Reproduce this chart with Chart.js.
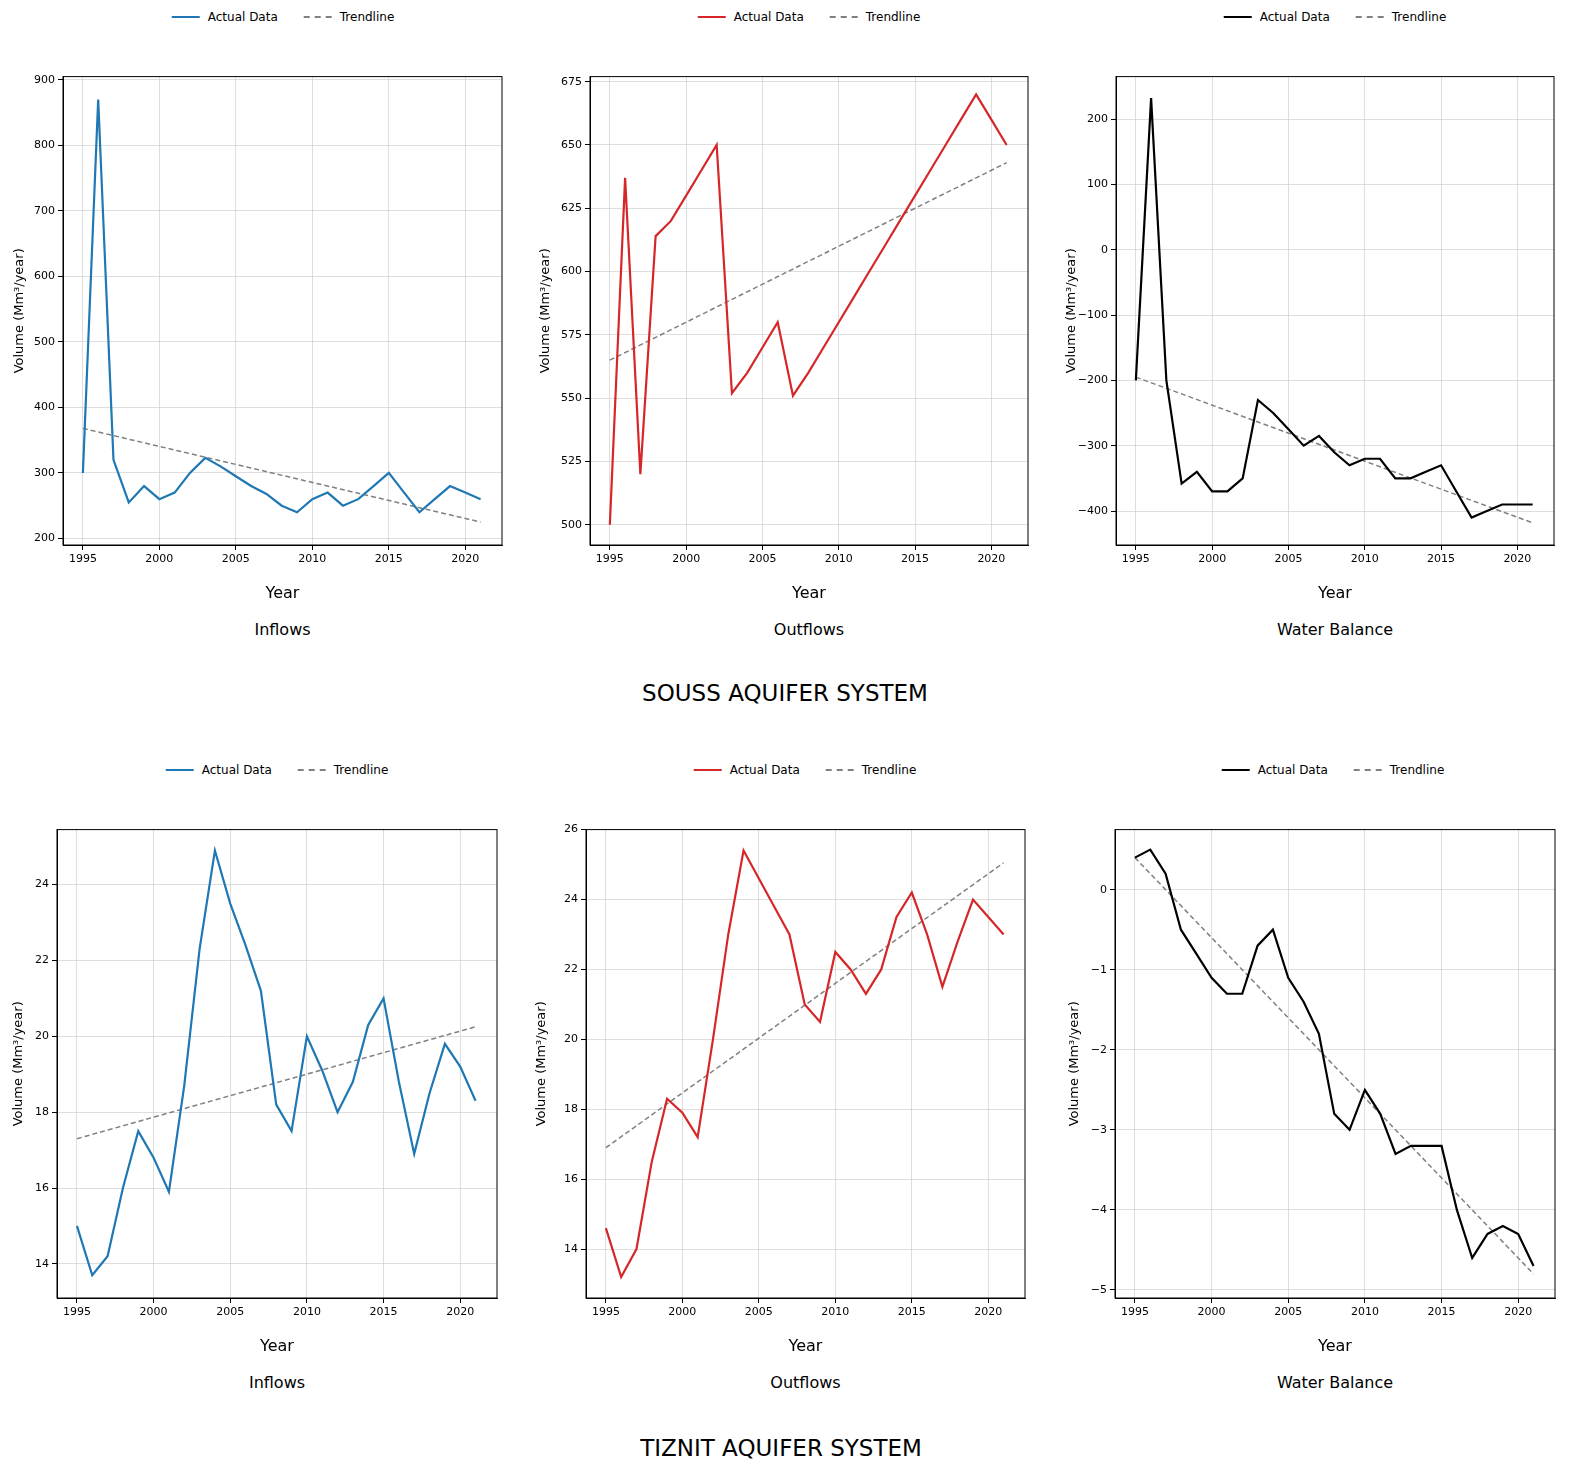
<!DOCTYPE html>
<html>
<head>
<meta charset="utf-8">
<script src="https://cdn.jsdelivr.net/npm/chart.js@4.4.0/dist/chart.umd.min.js"></script>
<style>
  body { margin: 0; background: #fff; font-family: "DejaVu Sans", sans-serif; }
  #page { position: relative; width: 1580px; height: 1482px; }
  .box { position: absolute; }
  .txt { position: absolute; transform: translateX(-50%); white-space: nowrap; color: #000; }
  .legend { position: absolute; transform: translateX(-50%); font-size: 12px; display: flex; align-items: center; white-space: nowrap; }
  .legend span.sw { display: inline-block; width: 28px; height: 0; margin: 0 8px 0 0; }
  .legend span.lb { margin-right: 26px; }
</style>
</head>
<body>
<div id="page"></div>
<script>
// Years shared by every panel
const years = [1995, 1996, 1997, 1998, 1999, 2000, 2001, 2002, 2003, 2004, 2005, 2006, 2007, 2008,
               2009, 2010, 2011, 2012, 2013, 2014, 2015, 2016, 2017, 2018, 2019, 2020, 2021];
const xTicks = [1995, 2000, 2005, 2010, 2015, 2020];

// Souss aquifer system
const soussInflows = [300, 870, 320, 255, 280, 260, 270, 300, 323, 310, 295, 280, 268, 250,
                      240, 260, 270, 250, 260, 280, 300, 270, 240, 260, 280, 270, 260];
const soussInflowsTrend = [368, 225];
const soussOutflows = [500, 637, 520, 614, 620, 630, 640, 650, 552, 560, 570, 580, 551, 560,
                       570, 580, 590, 600, 610, 620, 630, 640, 650, 660, 670, 660, 650];
const soussOutflowsTrend = [565, 643];
const soussBalance = [-200, 232, -200, -358, -340, -370, -370, -350, -230, -250, -275, -300, -285, -310,
                      -330, -320, -320, -350, -350, -340, -330, -370, -410, -400, -390, -390, -390];
const soussBalanceTrend = [-195, -418];

// Tiznit aquifer system
const tiznitInflows = [15, 13.7, 14.2, 16, 17.5, 16.8, 15.9, 18.7, 22.3, 24.9, 23.5, 22.4, 21.2, 18.2,
                       17.5, 20, 19.1, 18, 18.8, 20.3, 21, 18.8, 16.9, 18.5, 19.8, 19.2, 18.3];
const tiznitInflowsTrend = [17.3, 20.25];
const tiznitOutflows = [14.6, 13.2, 14, 16.5, 18.3, 17.9, 17.2, 20, 23, 25.4, 24.6, 23.8, 23, 21,
                        20.5, 22.5, 22, 21.3, 22, 23.5, 24.2, 23, 21.5, 22.8, 24, 23.5, 23];
const tiznitOutflowsTrend = [16.9, 25.05];
const tiznitBalance = [0.4, 0.5, 0.2, -0.5, -0.8, -1.1, -1.3, -1.3, -0.7, -0.5, -1.1, -1.4, -1.8, -2.8,
                       -3.0, -2.5, -2.8, -3.3, -3.2, -3.2, -3.2, -4.0, -4.6, -4.3, -4.2, -4.3, -4.7];
const tiznitBalanceTrend = [0.4, -4.8];

// Y tick labels
const ticksSoussIn = [200, 300, 400, 500, 600, 700, 800, 900];
const ticksSoussOut = [500, 525, 550, 575, 600, 625, 650, 675];
const ticksSoussBal = [-400, -300, -200, -100, 0, 100, 200];
const ticksTiznitIn = [14, 16, 18, 20, 22, 24];
const ticksTiznitOut = [14, 16, 18, 20, 22, 24, 26];
const ticksTiznitBal = [-5, -4, -3, -2, -1, 0];

const panels = [
  { data: soussInflows, trend: soussInflowsTrend, ticks: ticksSoussIn, min: 190, max: 905, color: '#1f77b4',
    left: 63, top: 73, w: 439, h: 472, yOff: 43, sub: 'Inflows', legX: 283, legY: 10 },
  { data: soussOutflows, trend: soussOutflowsTrend, ticks: ticksSoussOut, min: 492, max: 677, color: '#d62728',
    left: 590, top: 73, w: 438, h: 472, yOff: 44, sub: 'Outflows', legX: 809, legY: 10 },
  { data: soussBalance, trend: soussBalanceTrend, ticks: ticksSoussBal, min: -452, max: 265, color: '#000000',
    left: 1116, top: 73, w: 438, h: 472, yOff: 44, sub: 'Water Balance', legX: 1335, legY: 10 },
  { data: tiznitInflows, trend: tiznitInflowsTrend, ticks: ticksTiznitIn, min: 13.1, max: 25.45, color: '#1f77b4',
    left: 57, top: 826, w: 440, h: 472, yOff: 38, sub: 'Inflows', legX: 277, legY: 763 },
  { data: tiznitOutflows, trend: tiznitOutflowsTrend, ticks: ticksTiznitOut, min: 12.6, max: 26, color: '#d62728',
    left: 586, top: 826, w: 439, h: 472, yOff: 44, sub: 'Outflows', legX: 805, legY: 763 },
  { data: tiznitBalance, trend: tiznitBalanceTrend, ticks: ticksTiznitBal, min: -5.1, max: 0.75, color: '#000000',
    left: 1115, top: 826, w: 440, h: 472, yOff: 40, sub: 'Water Balance', legX: 1333, legY: 763 }
];

const page = document.getElementById('page');

function addText(text, x, y, size) {
  const d = document.createElement('div');
  d.className = 'txt';
  d.style.left = x + 'px';
  d.style.top = y + 'px';
  d.style.fontSize = size + 'px';
  d.textContent = text;
  page.appendChild(d);
}

panels.forEach(p => {
  // legend
  const lg = document.createElement('div');
  lg.className = 'legend';
  lg.style.left = p.legX + 'px';
  lg.style.top = p.legY + 'px';
  lg.innerHTML = `<span class="sw" style="border-top:2.5px solid ${p.color}"></span><span class="lb">Actual Data</span>` +
                 `<span class="sw" style="border-top:2px dashed #808080"></span><span>Trendline</span>`;
  page.appendChild(lg);

  const yw = p.yOff + 8;
  const box = document.createElement('div');
  box.className = 'box';
  box.style.left = (p.left - yw) + 'px';
  box.style.top = (p.top - 6) + 'px';
  box.style.width = (p.w + yw + 8) + 'px';
  box.style.height = (p.h + 6 + 62) + 'px';
  const cv = document.createElement('canvas');
  box.appendChild(cv);
  page.appendChild(box);

  const actual = p.data.map((v, i) => ({ x: years[i], y: v }));
  const trend = [{ x: years[0], y: p.trend[0] }, { x: years[years.length - 1], y: p.trend[1] }];

  new Chart(cv, {
    type: 'line',
    data: {
      datasets: [
        { label: 'Actual Data', data: actual, borderColor: p.color, borderWidth: 2.2, pointRadius: 0, tension: 0 },
        { label: 'Trendline', data: trend, borderColor: '#808080', borderWidth: 1.5, borderDash: [5, 3], pointRadius: 0 }
      ]
    },
    options: {
      responsive: true,
      maintainAspectRatio: false,
      animation: false,
      layout: { padding: { top: 6, right: 8, left: 0, bottom: 0 } },
      plugins: { legend: { display: false }, tooltip: { enabled: false } },
      scales: {
        x: {
          type: 'linear',
          min: 1993.7,
          max: 2022.4,
          afterBuildTicks: s => { s.ticks = xTicks.map(v => ({ value: v })); },
          afterFit: s => { s.height = 62; },
          grid: { color: 'rgba(200,200,200,0.6)', borderDash: [2, 2], tickLength: 5, tickColor: '#000' },
          border: { color: '#000', width: 1 },
          ticks: { color: '#000', font: { family: 'DejaVu Sans', size: 11 }, maxRotation: 0, callback: v => String(v) },
          title: { display: true, text: 'Year', color: '#000', font: { family: 'DejaVu Sans', size: 16 }, padding: { top: 10 } }
        },
        y: {
          min: p.min,
          max: p.max,
          afterBuildTicks: s => { s.ticks = p.ticks.map(v => ({ value: v })); },
          afterFit: s => { s.width = yw; },
          grid: { color: 'rgba(200,200,200,0.6)', borderDash: [2, 2], tickLength: 5, tickColor: '#000' },
          border: { color: '#000', width: 1 },
          ticks: { color: '#000', font: { family: 'DejaVu Sans', size: 11 }, callback: v => String(v).replace('-', '\u2212') },
          title: { display: true, text: 'Volume (Mm³/year)', color: '#000', font: { family: 'DejaVu Sans', size: 13 }, padding: 0 }
        }
      }
    },
    plugins: [{
      id: 'frame',
      afterDraw(chart) {
        const a = chart.chartArea, c = chart.ctx;
        c.save();
        c.strokeStyle = '#000';
        c.lineWidth = 1;
        c.strokeRect(a.left, a.top, a.right - a.left, a.bottom - a.top);
        c.restore();
      }
    }]
  });

  addText(p.sub, p.left + p.w / 2, p.top + p.h + 75, 16);
});

addText('SOUSS AQUIFER SYSTEM', 785, 680, 23);
addText('TIZNIT AQUIFER SYSTEM', 781, 1435, 23);
</script>
</body>
</html>
